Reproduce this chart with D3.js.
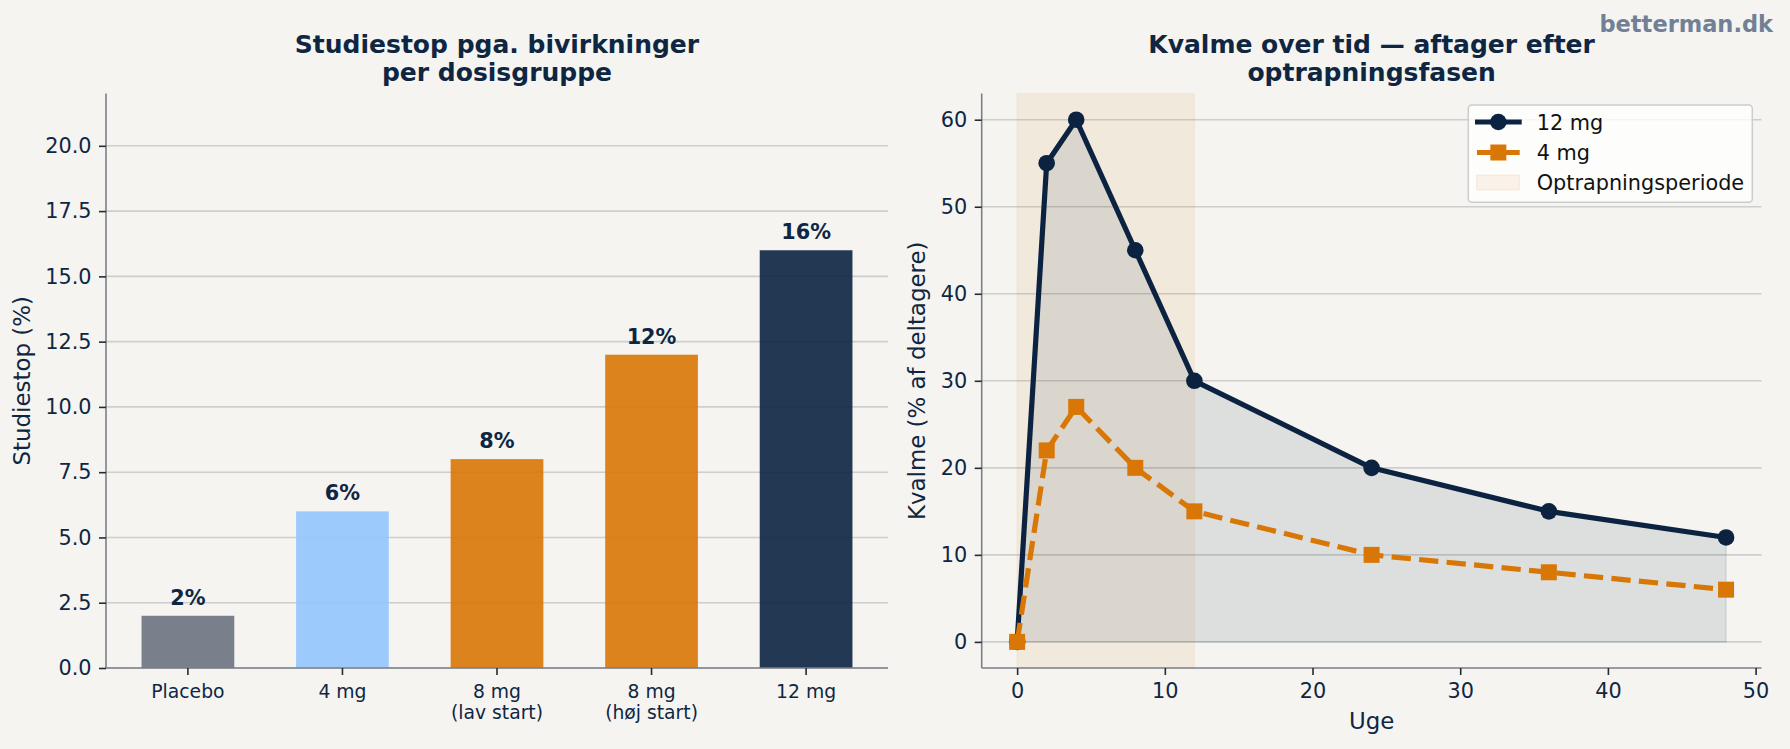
<!DOCTYPE html>
<html>
<head>
<meta charset="utf-8">
<script src="https://cdn.jsdelivr.net/npm/d3@7"></script>
<style>
    html, body { margin: 0; padding: 0; background: #f5f4f0; }
    svg { display: block; font-family: "DejaVu Sans", sans-serif; }
</style>
</head>
<body>
<div id="chart"></div>
<script>
// left panel: dropout per dose group
const doseGroups = ["Placebo", "4 mg", "8 mg\n(lav start)", "8 mg\n(høj start)", "12 mg"];
const dropoutPct = [2, 6, 8, 12, 16];
const dropoutTicks = [0, 2.5, 5, 7.5, 10, 12.5, 15, 17.5, 20];

// right panel: nausea over time
const weeks = [0, 2, 4, 8, 12, 24, 36, 48];
const nausea12mg = [0, 55, 60, 45, 30, 20, 15, 12];
const nausea4mg = [0, 22, 27, 20, 15, 10, 8, 6];
const nauseaTicks = [0, 10, 20, 30, 40, 50, 60];
const weekTicks = [0, 10, 20, 30, 40, 50];
const titrationSpan = [0, 12];

const NAVY = "#0b2341";
const ORANGE = "#d97706";
const TEXT = "#0f2643";
const barColors = ["#6b7280", "#93c5fd", ORANGE, ORANGE, NAVY];

const W = 1790, H = 749;
const yTop = 93.6, yBottom = 668;

const svg = d3.select("#chart").append("svg")
    .attr("width", W)
    .attr("height", H);

svg.append("rect").attr("width", W).attr("height", H).attr("fill", "#f5f4f0");

// watermark
svg.append("text")
    .attr("x", 1773).attr("y", 32)
    .attr("text-anchor", "end")
    .attr("font-size", 22.5).attr("font-weight", "bold")
    .attr("fill", "#718096")
    .text("betterman.dk");

function title(lines, cx){
    const t = svg.append("text")
        .attr("text-anchor", "middle")
        .attr("font-size", 25).attr("font-weight", "bold")
        .attr("fill", TEXT);
    lines.forEach((l, i) => {
        t.append("tspan").attr("x", cx).attr("y", 53 + i * 28).text(l);
    });
}

function styleAxis(g){
    g.select(".domain").remove();
    g.selectAll(".tick line").attr("stroke", "#222b38").attr("stroke-width", 1.6);
    g.selectAll(".tick text").attr("fill", TEXT).attr("font-family", "DejaVu Sans");
}

function spines(x0, x1){
    svg.append("line").attr("x1", x0).attr("x2", x0).attr("y1", yTop).attr("y2", yBottom)
        .attr("stroke", "#7b7f89").attr("stroke-width", 1.6);
    svg.append("line").attr("x1", x0).attr("x2", x1).attr("y1", yBottom).attr("y2", yBottom)
        .attr("stroke", "#7b7f89").attr("stroke-width", 1.6);
}

function grid(yScale, ticks, x0, x1){
    svg.append("g").selectAll("line")
        .data(ticks)
        .enter()
        .append("line")
            .attr("x1", x0).attr("x2", x1)
            .attr("y1", d => yScale(d)).attr("y2", d => yScale(d))
            .attr("stroke", "#b4b4b4").attr("stroke-opacity", 0.6)
            .attr("stroke-width", 1.6);
}

// ---------- left: bar chart ----------
(function(){
    const x0 = 106, x1 = 888;
    const xScale = d3.scaleBand()
        .domain(doseGroups)
        .range([x0, x1])
        .paddingInner(0.4)
        .paddingOuter(0.23);
    const yScale = d3.scaleLinear().domain([0, 22]).range([yBottom, yTop]);

    grid(yScale, dropoutTicks, x0, x1);

    svg.append("g").selectAll("rect")
        .data(dropoutPct)
        .enter()
        .append("rect")
            .attr("x", (d, i) => xScale(doseGroups[i]))
            .attr("y", d => yScale(d))
            .attr("width", xScale.bandwidth())
            .attr("height", d => yBottom - yScale(d))
            .attr("fill", (d, i) => barColors[i])
            .attr("fill-opacity", 0.9);

    svg.append("g").selectAll("text")
        .data(dropoutPct)
        .enter()
        .append("text")
            .attr("x", (d, i) => xScale(doseGroups[i]) + xScale.bandwidth() / 2)
            .attr("y", d => yScale(d) - 11)
            .attr("text-anchor", "middle")
            .attr("font-size", 20.8).attr("font-weight", "bold")
            .attr("fill", TEXT)
            .text(d => d + "%");

    spines(x0, x1);

    const yAxis = svg.append("g")
        .attr("transform", `translate(${x0},0)`)
        .call(d3.axisLeft(yScale).tickValues(dropoutTicks).tickFormat(d3.format(".1f")).tickSize(7).tickPadding(7.5));
    styleAxis(yAxis);
    yAxis.selectAll(".tick text").attr("font-size", 20.8);

    const xAxis = svg.append("g")
        .attr("transform", `translate(0,${yBottom})`)
        .call(d3.axisBottom(xScale).tickSize(7).tickPadding(7));
    styleAxis(xAxis);
    xAxis.selectAll(".tick text")
        .attr("font-size", 18.75)
        .text(null)
        .attr("y", 0)
        .attr("dy", null)
        .each(function(d){
            const t = d3.select(this);
            d.split("\n").forEach((l, i) => {
                t.append("tspan").attr("x", 0).attr("y", 29.7 + i * 21.6).text(l);
            });
        });

    svg.append("text")
        .attr("transform", `translate(30,${(yTop + yBottom) / 2}) rotate(-90)`)
        .attr("text-anchor", "middle")
        .attr("font-size", 22.9).attr("fill", TEXT)
        .text("Studiestop (%)");

    title(["Studiestop pga. bivirkninger", "per dosisgruppe"], (x0 + x1) / 2);
})();

// ---------- right: line chart ----------
(function(){
    const x0 = 981.7, x1 = 1761.5;
    const xScale = d3.scaleLinear().domain([-2.4, 50.4]).range([x0, x1]);
    const yScale = d3.scaleLinear().domain([-3, 63]).range([yBottom, yTop]);

    grid(yScale, nauseaTicks, x0, x1);

    // titration period
    svg.append("rect")
        .attr("x", xScale(titrationSpan[0]))
        .attr("y", yTop)
        .attr("width", xScale(titrationSpan[1]) - xScale(titrationSpan[0]))
        .attr("height", yBottom - yTop)
        .attr("fill", ORANGE).attr("fill-opacity", 0.08)
        .attr("stroke", ORANGE).attr("stroke-opacity", 0.06).attr("stroke-width", 1.5);

    const pts12 = weeks.map((w, i) => ({w, v: nausea12mg[i]}));
    const pts4 = weeks.map((w, i) => ({w, v: nausea4mg[i]}));

    const area = d3.area()
        .x(d => xScale(d.w))
        .y0(yScale(0))
        .y1(d => yScale(d.v));
    svg.append("path")
        .datum(pts12)
        .attr("d", area)
        .attr("fill", NAVY).attr("fill-opacity", 0.1)
        .attr("stroke", NAVY).attr("stroke-opacity", 0.1).attr("stroke-width", 1.5);

    const line = d3.line().x(d => xScale(d.w)).y(d => yScale(d.v));

    svg.append("path")
        .datum(pts12)
        .attr("d", line)
        .attr("fill", "none")
        .attr("stroke", NAVY).attr("stroke-width", 5.2)
        .attr("stroke-linejoin", "round");
    svg.append("g").selectAll("circle")
        .data(pts12)
        .enter()
        .append("circle")
            .attr("cx", d => xScale(d.w))
            .attr("cy", d => yScale(d.v))
            .attr("r", 8.3)
            .attr("fill", NAVY);

    svg.append("path")
        .datum(pts4)
        .attr("d", line)
        .attr("fill", "none")
        .attr("stroke", ORANGE).attr("stroke-width", 5.2)
        .attr("stroke-dasharray", "19.3 8.3");
    svg.append("g").selectAll("rect")
        .data(pts4)
        .enter()
        .append("rect")
            .attr("x", d => xScale(d.w) - 8)
            .attr("y", d => yScale(d.v) - 8)
            .attr("width", 16).attr("height", 16)
            .attr("fill", ORANGE);

    spines(x0, x1);

    const yAxis = svg.append("g")
        .attr("transform", `translate(${x0},0)`)
        .call(d3.axisLeft(yScale).tickValues(nauseaTicks).tickSize(7).tickPadding(7.5));
    styleAxis(yAxis);
    yAxis.selectAll(".tick text").attr("font-size", 20.8);

    const xAxis = svg.append("g")
        .attr("transform", `translate(0,${yBottom})`)
        .call(d3.axisBottom(xScale).tickValues(weekTicks).tickSize(7).tickPadding(7));
    styleAxis(xAxis);
    xAxis.selectAll(".tick text").attr("font-size", 20.8).attr("dy", null).attr("y", 30.3);

    svg.append("text")
        .attr("x", (x0 + x1) / 2).attr("y", 729)
        .attr("text-anchor", "middle")
        .attr("font-size", 22.9).attr("fill", TEXT)
        .text("Uge");

    svg.append("text")
        .attr("transform", `translate(925,${(yTop + yBottom) / 2}) rotate(-90)`)
        .attr("text-anchor", "middle")
        .attr("font-size", 22.9).attr("fill", TEXT)
        .text("Kvalme (% af deltagere)");

    title(["Kvalme over tid — aftager efter", "optrapningsfasen"], (x0 + x1) / 2);

    // legend
    const lg = svg.append("g");
    lg.append("rect")
        .attr("x", 1468.3).attr("y", 105)
        .attr("width", 284).attr("height", 97.3)
        .attr("rx", 3.5)
        .attr("fill", "#ffffff").attr("fill-opacity", 0.8)
        .attr("stroke", "#cccccc").attr("stroke-width", 1.5);

    const hx0 = 1475, hx1 = 1521.7, hxm = (hx0 + hx1) / 2, tx = 1536.7;
    lg.append("line").attr("x1", hx0).attr("x2", hx1).attr("y1", 122).attr("y2", 122)
        .attr("stroke", NAVY).attr("stroke-width", 5.2);
    lg.append("circle").attr("cx", hxm).attr("cy", 122).attr("r", 8.3).attr("fill", NAVY);
    lg.append("line").attr("x1", hx0 + 2).attr("x2", hx1 - 2).attr("y1", 152.5).attr("y2", 152.5)
        .attr("stroke", ORANGE).attr("stroke-width", 5.2);
    lg.append("rect").attr("x", hxm - 8).attr("y", 144.5).attr("width", 16).attr("height", 16).attr("fill", ORANGE);
    lg.append("rect").attr("x", 1476.7).attr("y", 175).attr("width", 42.6).attr("height", 15)
        .attr("fill", ORANGE).attr("fill-opacity", 0.08)
        .attr("stroke", ORANGE).attr("stroke-opacity", 0.1).attr("stroke-width", 1.2);

    [["12 mg", 129.5], ["4 mg", 159.5], ["Optrapningsperiode", 189.5]].forEach(([label, y]) => {
        lg.append("text").attr("x", tx).attr("y", y)
            .attr("font-size", 20.8).attr("fill", "#111")
            .text(label);
    });
})();
</script>
</body>
</html>
